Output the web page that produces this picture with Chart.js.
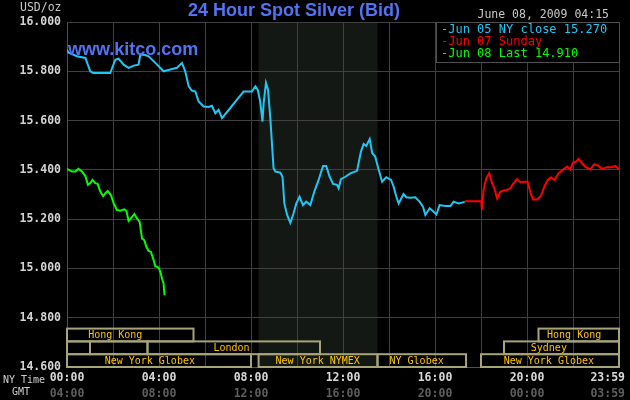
<!DOCTYPE html>
<html>
<head>
<meta charset="utf-8">
<script src="https://cdn.jsdelivr.net/npm/chart.js"></script>
<style>
  html, body { margin: 0; padding: 0; background: #000; }
  canvas { display: block; background: #000; }
</style>
</head>
<body>
<canvas id="silverChart" width="630" height="400"></canvas>
<script>
// hours are NY time, 0..24
const nyCloseHours = [0.00, 0.06, 0.43, 0.80, 1.01, 1.14, 1.88, 2.10, 2.24, 2.46, 2.68, 2.90, 3.11, 3.19, 3.40, 3.55, 3.84, 4.20, 4.49, 4.78, 5.00, 5.14, 5.29, 5.43, 5.58, 5.72, 5.94, 6.16, 6.30, 6.45, 6.59, 6.74, 7.10, 7.39, 7.68, 8.04, 8.19, 8.29, 8.40, 8.50, 8.55, 8.65, 8.74, 8.84, 8.91, 8.98, 9.06, 9.27, 9.37, 9.45, 9.57, 9.71, 9.85, 9.97, 10.11, 10.26, 10.40, 10.58, 10.75, 10.94, 11.13, 11.27, 11.42, 11.57, 11.74, 11.81, 11.91, 12.10, 12.32, 12.61, 12.78, 12.90, 13.01, 13.16, 13.27, 13.40, 13.55, 13.70, 13.88, 14.09, 14.20, 14.32, 14.42, 14.52, 14.63, 14.75, 14.93, 15.14, 15.33, 15.48, 15.58, 15.77, 15.94, 16.06, 16.20, 16.45, 16.67, 16.81, 17.03, 17.29];
const nyCloseValues = [15.888, 15.876, 15.861, 15.854, 15.800, 15.793, 15.793, 15.847, 15.851, 15.827, 15.814, 15.823, 15.827, 15.868, 15.866, 15.861, 15.834, 15.800, 15.807, 15.814, 15.834, 15.800, 15.739, 15.722, 15.718, 15.678, 15.657, 15.655, 15.660, 15.630, 15.644, 15.610, 15.651, 15.685, 15.718, 15.718, 15.739, 15.725, 15.678, 15.596, 15.671, 15.753, 15.725, 15.610, 15.508, 15.407, 15.393, 15.389, 15.372, 15.264, 15.217, 15.185, 15.224, 15.264, 15.291, 15.257, 15.271, 15.257, 15.311, 15.359, 15.416, 15.416, 15.372, 15.343, 15.339, 15.325, 15.362, 15.372, 15.386, 15.396, 15.474, 15.505, 15.497, 15.525, 15.468, 15.454, 15.400, 15.352, 15.370, 15.359, 15.332, 15.291, 15.264, 15.282, 15.302, 15.289, 15.287, 15.289, 15.271, 15.250, 15.217, 15.244, 15.230, 15.219, 15.257, 15.253, 15.253, 15.271, 15.264, 15.270];

const sundayHours = [17.29, 18.01, 18.04, 18.11, 18.23, 18.36, 18.48, 18.58, 18.70, 18.84, 18.98, 19.13, 19.27, 19.42, 19.57, 19.71, 19.88, 20.03, 20.14, 20.26, 20.43, 20.61, 20.75, 20.90, 21.04, 21.19, 21.37, 21.59, 21.74, 21.88, 22.00, 22.14, 22.24, 22.39, 22.53, 22.75, 22.93, 23.11, 23.26, 23.48, 23.70, 23.84, 24.00];
const sundayValues = [15.273, 15.273, 15.237, 15.318, 15.366, 15.386, 15.346, 15.325, 15.284, 15.311, 15.316, 15.318, 15.325, 15.346, 15.363, 15.350, 15.352, 15.352, 15.311, 15.280, 15.280, 15.294, 15.332, 15.359, 15.370, 15.359, 15.386, 15.402, 15.413, 15.402, 15.429, 15.434, 15.444, 15.427, 15.413, 15.402, 15.423, 15.416, 15.404, 15.411, 15.411, 15.416, 15.402];

const lastHours = [0.00, 0.22, 0.36, 0.50, 0.65, 0.80, 0.91, 1.01, 1.11, 1.23, 1.33, 1.45, 1.57, 1.67, 1.77, 1.91, 2.03, 2.17, 2.32, 2.49, 2.58, 2.68, 2.78, 2.93, 3.04, 3.16, 3.26, 3.36, 3.45, 3.55, 3.65, 3.77, 3.84, 3.98, 4.06, 4.13, 4.20, 4.24];
const lastValues = [15.404, 15.393, 15.393, 15.404, 15.393, 15.375, 15.339, 15.346, 15.359, 15.346, 15.343, 15.311, 15.294, 15.305, 15.314, 15.298, 15.264, 15.237, 15.234, 15.240, 15.234, 15.193, 15.203, 15.221, 15.203, 15.189, 15.122, 15.115, 15.088, 15.071, 15.067, 15.033, 15.009, 15.004, 14.986, 14.959, 14.939, 14.891];

const seriesLabels = ['-Jun 05 NY close 15.270', '-Jun 07 Sunday', '-Jun 08 Last 14.910'];
const seriesColors = ['#1ec8f5', '#ff0000', '#00ff00'];

const yTicks = [14.6, 14.8, 15.0, 15.2, 15.4, 15.6, 15.8, 16.0];
const xGridHours = [0, 2, 4, 6, 8, 10, 12, 14, 16, 18, 20, 22, 24];
const xLabelHours = [0, 4, 8, 12, 16, 20, 24];
const nyTimeLabels = ['00:00', '04:00', '08:00', '12:00', '16:00', '20:00', '23:59'];
const gmtLabels = ['04:00', '08:00', '12:00', '16:00', '20:00', '00:00', '03:59'];

// NYMEX pit session (shaded)
const nymexStart = 8.33;
const nymexEnd = 13.5;

// trading sessions along the bottom: row 0 = top row
const sessionNames = ['Hong Kong', '', '', 'London', 'New York Globex', 'New York NYMEX', 'NY Globex', 'New York Globex', 'Sydney', 'Hong Kong'];
const sessionStart = [0, 0, 1.0, 3.5, 0, 8.33, 13.5, 18.0, 19.0, 20.5];
const sessionEnd = [5.5, 1.0, 3.5, 11.0, 8.0, 13.5, 17.35, 24, 24, 24];
const sessionRow = [0, 1, 1, 1, 2, 2, 2, 2, 1, 0];
const sessionLabelHour = [2.1, null, null, 7.15, 3.6, 10.9, 15.2, 20.95, 20.95, 22.05];

function toPoints(xs, ys) {
  return xs.map((x, i) => ({ x: x, y: ys[i] }));
}

const mono = "'DejaVu Sans Mono', monospace";
const sans = "'Liberation Sans', Arial, sans-serif";

const kitcoOverlay = {
  id: 'kitcoOverlay',
  beforeDraw(chart) {
    const { ctx, chartArea, scales } = chart;
    const x1 = scales.x.getPixelForValue(nymexStart);
    const x2 = scales.x.getPixelForValue(nymexEnd);
    ctx.save();
    ctx.fillStyle = '#141814';
    ctx.fillRect(x1, chartArea.top, x2 - x1, chartArea.bottom - chartArea.top);
    ctx.restore();
  },
  afterDatasetsDraw(chart) {
    const { ctx, chartArea, scales } = chart;
    const xs = scales.x;
    ctx.save();

    // title and headers
    ctx.textBaseline = 'middle';
    ctx.fillStyle = '#5273f2';
    ctx.font = 'bold 18px ' + sans;
    ctx.textAlign = 'center';
    ctx.fillText('24 Hour Spot Silver (Bid)', 294, 11);
    ctx.textAlign = 'left';
    ctx.fillText('www.kitco.com', 68, 50);

    ctx.fillStyle = '#c8c8c8';
    ctx.font = '11.5px ' + mono;
    ctx.fillText('USD/oz', 20, 8);
    ctx.textAlign = 'right';
    ctx.fillText('June 08, 2009 04:15', 609, 15);

    // legend box
    const lx = 436, ly = chartArea.top, lw = chartArea.right - 436, lh = 40;
    ctx.fillStyle = '#000';
    ctx.fillRect(lx, ly, lw, lh);
    ctx.strokeStyle = '#505050';
    ctx.lineWidth = 1;
    ctx.strokeRect(lx + 0.5, ly + 0.5, lw, lh);
    ctx.textAlign = 'left';
    ctx.font = '12px ' + mono;
    seriesLabels.forEach((t, i) => {
      ctx.fillStyle = seriesColors[i];
      ctx.fillText(t, 441, ly + 7.5 + i * 12);
    });

    // trading session boxes
    const rowH = 12.8;
    const rowTop = r => chartArea.bottom - (3 - r) * rowH;
    ctx.strokeStyle = '#a8a47a';
    ctx.lineWidth = 2;
    ctx.font = '10px ' + mono;
    ctx.textAlign = 'center';
    sessionNames.forEach((name, i) => {
      const a = xs.getPixelForValue(sessionStart[i]);
      const b = xs.getPixelForValue(sessionEnd[i]);
      const t = rowTop(sessionRow[i]);
      ctx.strokeRect(a, t, b - a, rowH);
      if (name) {
        ctx.fillStyle = '#ffc400';
        ctx.fillText(name, xs.getPixelForValue(sessionLabelHour[i]), t + rowH / 2 + 0.5);
      }
    });

    // x axis labels: NY time and GMT
    ctx.font = 'bold 11.5px ' + mono;
    xLabelHours.forEach((h, i) => {
      let px = xs.getPixelForValue(h);
      let align = 'center';
      if (i === xLabelHours.length - 1) { px += 6; align = 'right'; }
      ctx.textAlign = align;
      ctx.fillStyle = '#d8d8d8';
      ctx.fillText(nyTimeLabels[i], px, chartArea.bottom + 11.5);
      ctx.fillStyle = '#5e5e5e';
      ctx.fillText(gmtLabels[i], px, chartArea.bottom + 27.5);
    });
    ctx.font = '10px ' + mono;
    ctx.fillStyle = '#d0d0d0';
    ctx.textAlign = 'left';
    ctx.fillText('NY Time', 3, chartArea.bottom + 13.5);
    ctx.fillText('GMT', 12, chartArea.bottom + 25);

    ctx.restore();
  }
};

const ctx = document.getElementById('silverChart').getContext('2d');
new Chart(ctx, {
  type: 'line',
  data: {
    datasets: [
      { label: seriesLabels[0], data: toPoints(nyCloseHours, nyCloseValues), borderColor: seriesColors[0] },
      { label: seriesLabels[1], data: toPoints(sundayHours, sundayValues), borderColor: seriesColors[1] },
      { label: seriesLabels[2], data: toPoints(lastHours, lastValues), borderColor: seriesColors[2] }
    ]
  },
  options: {
    responsive: false,
    animation: false,
    devicePixelRatio: 1,
    elements: {
      line: { borderWidth: 2, tension: 0, fill: false },
      point: { radius: 0 }
    },
    layout: { padding: { left: 0, top: 22, right: 11, bottom: 33 } },
    plugins: { legend: { display: false }, tooltip: { enabled: false } },
    scales: {
      x: {
        type: 'linear',
        min: 0,
        max: 24,
        afterBuildTicks: s => { s.ticks = xGridHours.map(v => ({ value: v })); },
        afterFit: s => { s.height = 0; },
        ticks: { display: false },
        grid: { color: '#404040', drawTicks: false },
        border: { color: '#505050' }
      },
      y: {
        min: 14.6,
        max: 16.0,
        afterBuildTicks: s => { s.ticks = yTicks.map(v => ({ value: v })); },
        afterFit: s => { s.width = 67; },
        ticks: {
          color: '#d4d4d4',
          font: { family: 'DejaVu Sans Mono', size: 11.5, weight: 'bold' },
          padding: 6,
          callback: v => v.toFixed(3)
        },
        grid: { color: '#404040', drawTicks: false },
        border: { color: '#505050' }
      }
    }
  },
  plugins: [kitcoOverlay]
});
</script>
</body>
</html>
